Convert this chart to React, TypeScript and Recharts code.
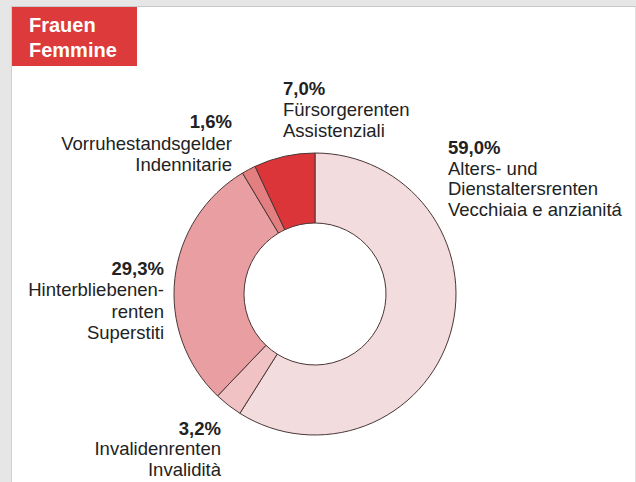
import { PieChart, Pie, Cell } from 'recharts';

// shares of pensions for women, clockwise from 12 o'clock
const categories = [
    'Alters- und Dienstaltersrenten',
    'Invalidenrenten',
    'Hinterbliebenenrenten',
    'Vorruhestandsgelder',
    'Fürsorgerenten',
];
const percents = [59.0, 3.2, 29.3, 1.6, 7.0];
const labelLines = [
    ['Alters- und', 'Dienstaltersrenten', 'Vecchiaia e anzianitá'],
    ['Invalidenrenten', 'Invalidità'],
    ['Hinterbliebenen-', 'renten', 'Superstiti'],
    ['Vorruhestandsgelder', 'Indennitarie'],
    ['Fürsorgerenten', 'Assistenziali'],
];
const titleLines = ['Frauen', 'Femmine'];

const sliceColors = ['#f2dcdd', '#f0c2c3', '#e99fa1', '#e47f81', '#dc3539'];

// where each label block sits (anchor x, first line centre y, line height)
const labelLayout = [
    { x: 448, y: 147, lh: 20.5, anchor: 'start' },
    { x: 221, y: 428, lh: 20.3, anchor: 'end' },
    { x: 164, y: 268, lh: 21.3, anchor: 'end' },
    { x: 232, y: 121, lh: 21.5, anchor: 'end' },
    { x: 283, y: 88, lh: 21, anchor: 'start' },
];

const data = categories.map((name, i) => ({ name, value: percents[i] }));

function fmtPct(v: number): string {
    return v.toFixed(1).replace('.', ',') + '%';
}

/* eslint-disable @typescript-eslint/no-explicit-any */
function renderLabel(props: any) {
    const i = props.index;
    const l = labelLayout[i];
    const lines = [fmtPct(percents[i]), ...labelLines[i]];
    return (
        <text
            key={`lbl-${i}`}
            x={l.x}
            y={l.y + 7}
            textAnchor={l.anchor}
            fill="#222"
            fontSize={18.5}
            fontFamily="'Liberation Sans', Arial, sans-serif"
        >
            {lines.map((t, j) => (
                <tspan key={j} x={l.x} y={l.y + 7 + j * l.lh} fontWeight={j === 0 ? 700 : 400}>
                    {t}
                </tspan>
            ))}
        </text>
    );
}

export default function App() {
    return (
        <div
            style={{
                position: 'absolute',
                left: 0,
                top: 0,
                width: 636,
                height: 482,
                background: '#e6e6e6',
                overflow: 'hidden',
                fontFamily: "'Liberation Sans', Arial, sans-serif",
            }}
        >
            {/* white panel */}
            <div
                style={{
                    position: 'absolute',
                    left: 11,
                    top: 6,
                    width: 623,
                    height: 480,
                    background: '#fff',
                    borderTop: '1px solid #c8c8c8',
                    borderLeft: '1px solid #d0d0d0',
                    borderRight: '1px solid #e0e0e0',
                }}
            />
            {/* title box */}
            <div
                style={{
                    position: 'absolute',
                    left: 12,
                    top: 7,
                    width: 125,
                    height: 59,
                    background: '#dc3a3b',
                    color: '#fff',
                    fontWeight: 700,
                    fontSize: 20,
                    lineHeight: '24.5px',
                    padding: '6px 0 0 17px',
                    boxSizing: 'border-box',
                }}
            >
                {titleLines.map((t) => (
                    <div key={t}>{t}</div>
                ))}
            </div>
            <div style={{ position: 'absolute', left: 0, top: 0 }}>
                <PieChart width={636} height={482} margin={{ top: 0, right: 0, bottom: 0, left: 0 }}>
                    <Pie
                        data={data}
                        dataKey="value"
                        nameKey="name"
                        cx={315}
                        cy={294}
                        innerRadius={71}
                        outerRadius={141}
                        startAngle={90}
                        endAngle={-270}
                        stroke="#4a3636"
                        strokeWidth={1}
                        label={renderLabel}
                        labelLine={false}
                        isAnimationActive={false}
                    >
                        {data.map((d, i) => (
                            <Cell key={d.name} fill={sliceColors[i]} />
                        ))}
                    </Pie>
                </PieChart>
            </div>
        </div>
    );
}
